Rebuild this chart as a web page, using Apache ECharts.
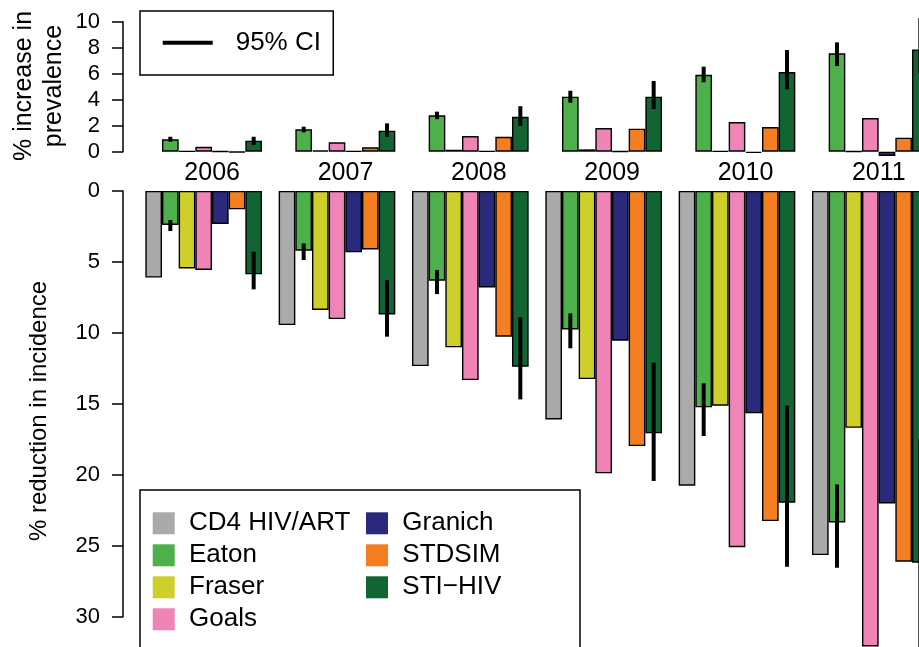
<!DOCTYPE html>
<html><head><meta charset="utf-8">
<script src="https://cdn.jsdelivr.net/npm/echarts@6/dist/echarts.min.js"></script>
<style>
html,body{margin:0;padding:0;overflow:hidden;background:#fff}
#wrap{width:919px;height:647px;overflow:hidden;position:relative;background:#fff}
#c{width:960px;height:647px;position:absolute;left:0;top:0}
</style>
</head><body><div id="wrap"><div id="c"></div></div>
<script>
// ---------- data ----------
const years = ['2006', '2007', '2008', '2009', '2010', '2011'];
const models = ['CD4 HIV/ART', 'Eaton', 'Fraser', 'Goals', 'Granich', 'STDSIM', 'STI\u2212HIV'];
const colors = ['#AAAAAA', '#4DB04A', '#CFCF2B', '#F084B6', '#2A2A7C', '#F57F20', '#126433'];

// % increase in prevalence (top panel)
const cd4Prev     = [null, null, null, null, null, null];
const eatonPrev   = [0.95, 1.72, 2.80, 4.23, 5.92, 7.57];
const fraserPrev  = [0.05, 0.10, 0.15, 0.18, 0.05, 0.02];
const goalsPrev   = [0.38, 0.72, 1.20, 1.82, 2.28, 2.59];
const granichPrev = [0.02, 0.05, 0.05, 0.02, -0.10, -0.33];
const stdsimPrev  = [-0.05, 0.34, 1.15, 1.77, 1.90, 1.08];
const stiPrev     = [0.85, 1.62, 2.69, 4.23, 6.13, 7.87];
const eatonPrevLo = [0.77, 1.49, 2.50, 3.77, 5.34, 6.59];
const eatonPrevHi = [1.15, 1.92, 3.08, 4.69, 6.54, 8.41];
const stiPrevLo   = [0.52, 1.15, 1.98, 3.28, 4.80, 6.03];
const stiPrevHi   = [1.15, 2.18, 3.50, 5.44, 7.82, 10.3];

// % reduction in incidence (bottom panel)
const cd4Inc     = [6.11, 9.45, 12.34, 16.10, 20.77, 25.66];
const eatonInc   = [2.40, 4.21, 6.33, 9.76, 15.25, 23.36];
const fraserInc  = [5.46, 8.39, 11.02, 13.26, 15.13, 16.69];
const goalsInc   = [5.57, 9.03, 13.33, 19.90, 25.10, 32.10];
const granichInc = [2.33, 4.33, 6.80, 10.55, 15.67, 22.02];
const stdsimInc  = [1.30, 4.12, 10.27, 17.98, 23.26, 26.13];
const stiInc     = [5.88, 8.70, 12.39, 17.08, 21.97, 26.20];
const eatonIncLo = [2.05, 3.70, 5.57, 8.63, 13.56, 20.68];
const eatonIncHi = [2.83, 4.87, 7.27, 11.09, 17.27, 26.55];
const stiIncLo   = [4.28, 6.28, 8.91, 12.10, 15.13, 17.50];
const stiIncHi   = [6.94, 10.27, 14.69, 20.44, 26.48, 32.50];

const prevTicks = [0, 2, 4, 6, 8, 10];
const incTicks  = [0, 5, 10, 15, 20, 25, 30];
// --------------------------

const FONT = '"Liberation Sans", Arial, Helvetica, sans-serif';
const prevData = [cd4Prev, eatonPrev, fraserPrev, goalsPrev, granichPrev, stdsimPrev, stiPrev];
const incData  = [cd4Inc, eatonInc, fraserInc, goalsInc, granichInc, stdsimInc, stiInc];

function ciRows(modelIdx, lo, hi) {
  return years.map((y, k) => [k, lo[k], hi[k], modelIdx]);
}
function renderCI(params, api) {
  const k = api.value(0), lo = api.value(1), hi = api.value(2), j = api.value(3);
  const bw = api.size([1, 0])[0];
  const off = (j - (models.length - 1) / 2) * bw / (models.length + 1);
  const p1 = api.coord([k, lo]);
  const p2 = api.coord([k, hi]);
  return { type: 'line', shape: { x1: p1[0] + off, y1: p1[1], x2: p2[0] + off, y2: p2[1] },
           style: { stroke: '#000', lineWidth: 4, lineCap: 'butt' } };
}

const series = [];
models.forEach((m, i) => {
  series.push({ type: 'bar', name: m, xAxisIndex: 0, yAxisIndex: 0, data: prevData[i],
    itemStyle: { color: colors[i], borderColor: '#000', borderWidth: 1.4 },
    barGap: '0%', barCategoryGap: '12.5%', clip: false, emphasis: { disabled: true } });
});
models.forEach((m, i) => {
  series.push({ type: 'bar', name: m, xAxisIndex: 1, yAxisIndex: 1, data: incData[i],
    itemStyle: { color: colors[i], borderColor: '#000', borderWidth: 1.4 },
    barGap: '0%', barCategoryGap: '12.5%', clip: false, emphasis: { disabled: true } });
});
series.push({ type: 'custom', name: '95% CI', xAxisIndex: 0, yAxisIndex: 0, clip: false,
  itemStyle: { color: '#000' }, renderItem: renderCI, encode: { x: 0, y: [1, 2] },
  data: ciRows(1, eatonPrevLo, eatonPrevHi).concat(ciRows(6, stiPrevLo, stiPrevHi)), z: 5 });
series.push({ type: 'custom', name: '95% CI', xAxisIndex: 1, yAxisIndex: 1, clip: false,
  itemStyle: { color: '#000' }, renderItem: renderCI, encode: { x: 0, y: [1, 2] },
  data: ciRows(1, eatonIncLo, eatonIncHi).concat(ciRows(6, stiIncLo, stiIncHi)), z: 5 });

const yAxisCommon = {
  type: 'value', offset: 14,
  axisLine: { show: true, lineStyle: { color: '#000', width: 1.5 } },
  axisTick: { show: true, length: 11, lineStyle: { color: '#000', width: 1.5 } },
  axisLabel: { margin: 23, fontSize: 22, color: '#000', fontFamily: FONT },
  splitLine: { show: false }
};

const chart = echarts.init(document.getElementById('c'));
chart.setOption({
  animation: false,
  backgroundColor: '#fff',
  textStyle: { fontFamily: FONT },
  grid: [
    { left: 137, right: 23, top: 21.7, height: 130 },
    { left: 137, right: 23, top: 190.9, height: 425.8 }
  ],
  xAxis: [
    { type: 'category', gridIndex: 0, data: years, axisLine: { show: false }, axisTick: { show: false },
      splitLine: { show: false },
      axisLabel: { margin: 9, interval: 0, formatter: v => '{a|' + v + '}',
        rich: { a: { fontSize: 25, color: '#000', fontFamily: FONT, padding: [0, 0, 0, 17] } } } },
    { type: 'category', gridIndex: 1, data: years, show: false }
  ],
  yAxis: [
    Object.assign({}, yAxisCommon, { gridIndex: 0, min: prevTicks[0], max: prevTicks[prevTicks.length - 1], interval: prevTicks[1] - prevTicks[0] }),
    Object.assign({}, yAxisCommon, { gridIndex: 1, inverse: true, min: incTicks[0], max: incTicks[incTicks.length - 1], interval: incTicks[1] - incTicks[0] })
  ],
  legend: [
    { data: models, orient: 'vertical', left: 140, top: 490, height: 140,
      padding: [20.3, 6.7, 40, 12.7], itemGap: 6, itemWidth: 22, itemHeight: 22, icon: 'rect',
      borderColor: '#000', borderWidth: 1.5, backgroundColor: '#fff', borderRadius: 0,
      selectedMode: false, itemStyle: { borderWidth: 0 },
      textStyle: { fontSize: 26, lineHeight: 26, width: 171, padding: [0, 0, 0, 9.3], color: '#000', fontFamily: FONT } },
    { data: ['95% CI'], left: 140, top: 11, padding: [18.7, 12.3, 19.3, 22.7],
      itemWidth: 50, itemHeight: 4, icon: 'rect', borderColor: '#000', borderWidth: 1.5,
      backgroundColor: '#fff', borderRadius: 0, selectedMode: false,
      itemStyle: { color: '#000', borderWidth: 0 },
      textStyle: { fontSize: 26, lineHeight: 26, padding: [0, 0, 0, 18], color: '#000', fontFamily: FONT } }
  ],
  graphic: [
    { type: 'text', x: 39, y: 86, rotation: Math.PI / 2,
      style: { text: '% increase in\nprevalence', fontSize: 25, lineHeight: 30, fontFamily: FONT,
               fill: '#000', textAlign: 'center', textVerticalAlign: 'middle' } },
    { type: 'text', x: 39, y: 411, rotation: Math.PI / 2,
      style: { text: '% reduction in incidence', fontSize: 24, fontFamily: FONT,
               fill: '#000', textAlign: 'center', textVerticalAlign: 'middle' } }
  ],
  series: series
});
</script>
</body></html>
